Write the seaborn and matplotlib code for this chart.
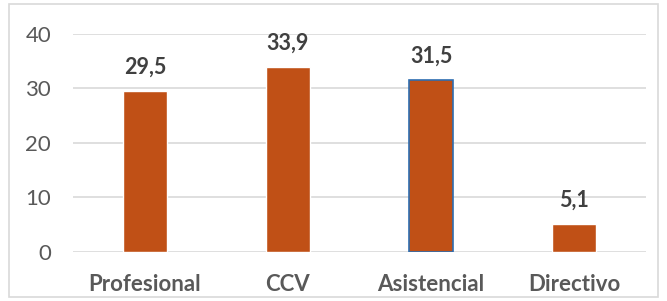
import matplotlib
matplotlib.use("Agg")
import matplotlib.pyplot as plt
import matplotlib.patches as patches
import pandas as pd
import seaborn as sns

categorias = ["Profesional", "CCV", "Asistencial", "Directivo"]
valores = [29.5, 33.9, 31.5, 5.1]
etiquetas = ["29,5", "33,9", "31,5", "5,1"]

df = pd.DataFrame({"cat": categorias, "val": valores})

sns.set_style("white")
plt.rcParams["font.family"] = ["Lato", "DejaVu Sans"]

fig = plt.figure(figsize=(6.67, 3.01), dpi=100)
ax = fig.add_axes([0.110, 0.163, 0.858, 0.724])

sns.barplot(data=df, x="cat", y="val", color="#C05016", saturation=1,
            width=0.31, ax=ax, zorder=3)

# the third bar has a blue outline in the original
ax.patches[2].set_edgecolor("#2E6DB0")
ax.patches[2].set_linewidth(1.2)

for i, (v, t) in enumerate(zip(valores, etiquetas)):
    ax.annotate(t, (i, v), xytext=(0, 17.5), textcoords="offset points",
                ha="center", va="center", fontsize=15.5, fontweight="bold",
                color="#404040")

ax.set_ylim(0, 40)
ax.set_xlim(-0.5, 3.5)
ax.set_yticks([0, 10, 20, 30, 40])
ax.yaxis.grid(True, color="#D9D9D9", linewidth=1.2, zorder=0)
ax.set_axisbelow(True)
for s in ax.spines.values():
    s.set_visible(False)
ax.set_xlabel("")
ax.set_ylabel("")
ax.tick_params(axis="y", length=0, pad=16, labelsize=16, labelcolor="#595959")
ax.tick_params(axis="x", length=0, pad=16, labelsize=16, labelcolor="#595959")
for lab in ax.get_xticklabels():
    lab.set_fontweight("bold")

fig.patches.append(patches.Rectangle((9 / 667, 4 / 301), 649 / 667, 293 / 301,
                                     transform=fig.transFigure, fill=False,
                                     edgecolor="#D9D9D9", linewidth=1.2))

fig.savefig("out.png", dpi=100)
